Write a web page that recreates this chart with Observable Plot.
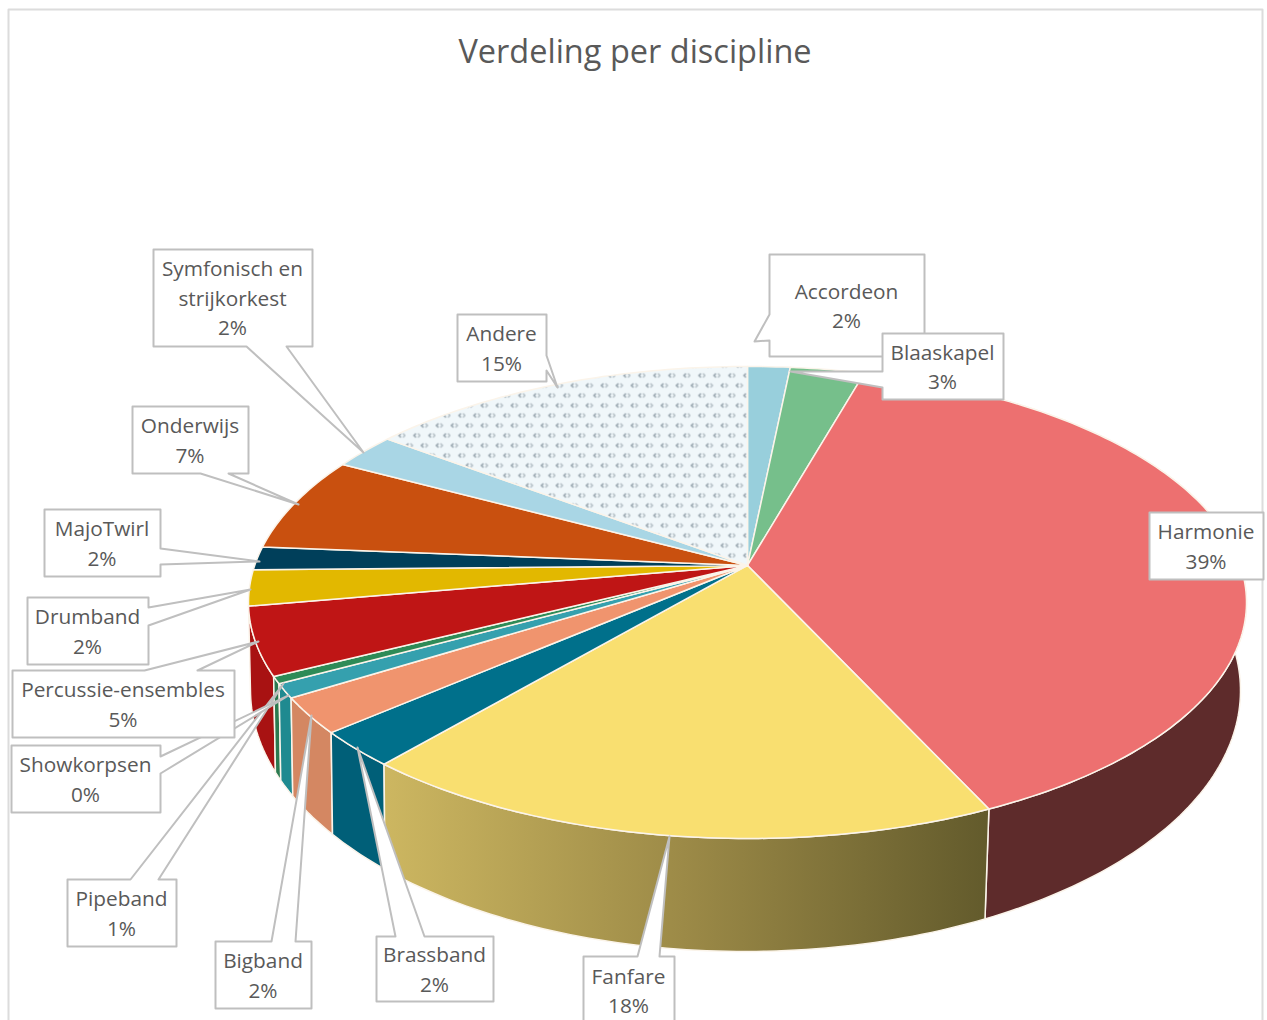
<!DOCTYPE html>
<html><head><meta charset="utf-8">
<style>html,body{margin:0;padding:0;background:#fff;overflow:hidden}</style>
<script src="https://cdn.jsdelivr.net/npm/d3@7"></script>
<script src="https://cdn.jsdelivr.net/npm/@observablehq/plot@0.6"></script>
</head><body><div id="chart"></div>
<script>
const titleText = "Verdeling per discipline";
const categories = ["Accordeon","Blaaskapel","Harmonie","Fanfare","Brassband","Bigband","Pipeband","Showkorpsen","Percussie-ensembles","Drumband","MajoTwirl","Onderwijs","Symfonisch en\nstrijkorkest","Andere"];
const shares = [1.6,2.8,38.7,18.15,2.45,2.45,0.96,0.49,4.65,2.45,1.6,6.5,2.45,14.75];
const topColors = ["#98cfdc","#76bf8b","#ed7070","#f9df70","#00708b","#f0946e","#35a0ae","#2e8b57","#bf1515","#e2b800","#003f5a","#c9500f","#a9d6e5","url(#andere)"];
const wallColors = ["#98cfdc","#76bf8b","#5e2b2b","url(#fanfareWall)","#005f78","#d48762","#1f8a90","#2b7a50","#a81212","#e2b800","#003f5a","#c9500f","#a9d6e5","#dde8ec"];

// Callout layout: box [x0,y0,x1,y1], side the tail leaves from, tail base a..b, tail tip
const callouts = [
  {box:[769,254,924,356],side:"l",a:314,b:340,tip:[754,341]},
  {box:[882,333,1003,399],side:"l",a:371,b:387,tip:[790,371]},
  {box:[1149,512,1263,579]},
  {box:[583,956,674,1024],side:"t",a:637,b:659,tip:[669,836]},
  {box:[376,936,493,1001],side:"t",a:395,b:424,tip:[357,747]},
  {box:[215,941,311,1008],side:"t",a:271,b:295,tip:[311,715]},
  {box:[67,879,176,946],side:"t",a:130,b:158,tip:[283,683]},
  {box:[11,745,160,812],side:"r",a:756,b:773,tip:[288,695]},
  {box:[12,670,234,737],side:"t",a:144,b:197,tip:[258,641]},
  {box:[27,597,148,664],side:"r",a:607,b:625,tip:[250,589]},
  {box:[44,509,160,576],side:"r",a:548,b:564,tip:[259,561]},
  {box:[132,406,248,473],side:"b",a:200,b:228,tip:[298,504]},
  {box:[153,249,312,346],side:"b",a:246,b:286,tip:[363,452]},
  {box:[457,314,546,381],side:"r",a:355,b:370,tip:[557,387]}
];

// Perspective view of the disc: upper and lower ellipse, vanishing shift of the centre
const topEllipse = {cx:747,cy:602,rx:499,ry:236};
const lowEllipse = {cx:745,cy:690,rx:495,ry:261};
const k = 0.157;
function project(e, frac, inner=1){
  const t = frac*2*Math.PI, u = inner*Math.sin(t), v = -inner*Math.cos(t), d = 1-k*v;
  return [e.cx + e.rx*u*Math.sqrt(1-k*k)/d, e.cy + e.ry*(v-k)/d];
}
const total = d3.sum(shares);
let run = 0;
const slices = shares.map((s,i)=>{const start=run/total; run+=s; return {i,start,end:run/total};});
function arc(e,s){
  const n = Math.max(2,Math.ceil((s.end-s.start)*360));
  return d3.range(n+1).map(j=>project(e,s.start+(s.end-s.start)*j/n));
}
const polyMark = (pts,fill,stroke,sw)=>Plot.line(pts,{x:d=>d[0],y:d=>d[1],curve:"linear-closed",fill,stroke,strokeWidth:sw,strokeLinejoin:"round"});

// Only the slices that face the viewer show a wall; nearest to the front is painted last
const walls = slices
  .filter(s=>s.i>=2 && s.i<=8)
  .sort((p,q)=>Math.abs((q.start+q.end)/2-.5)-Math.abs((p.start+p.end)/2-.5))
  .map(s=>polyMark([...arc(topEllipse,s),...arc(lowEllipse,s).reverse()],wallColors[s.i],"#fbf4ea",1.5));
const tops = slices.map(s=>polyMark([project(topEllipse,0,0),...arc(topEllipse,s)],topColors[s.i],"#fbf4ea",1.5));

function calloutPoints(c){
  const [x0,y0,x1,y1]=c.box, p=[[x0,y0]];
  if(c.side==="t") p.push([c.a,y0],c.tip,[c.b,y0]);
  p.push([x1,y0]);
  if(c.side==="r") p.push([x1,c.a],c.tip,[x1,c.b]);
  p.push([x1,y1]);
  if(c.side==="b") p.push([c.b,y1],c.tip,[c.a,y1]);
  p.push([x0,y1]);
  if(c.side==="l") p.push([x0,c.b],c.tip,[x0,c.a]);
  return p;
}
const labelRows = categories.map((name,i)=>({
  text:`${name}\n${Math.round(shares[i])}%`,
  x:(callouts[i].box[0]+callouts[i].box[2])/2 - 0.5,
  y:(callouts[i].box[1]+callouts[i].box[3])/2 - 1.5
}));

const defs = ()=>{
  const d = d3.create("svg:defs");
  const g = d.append("linearGradient").attr("id","fanfareWall").attr("gradientUnits","userSpaceOnUse")
    .attr("x1",381).attr("x2",985).attr("y1",0).attr("y2",0);
  g.append("stop").attr("offset",0).attr("stop-color","#cdb761");
  g.append("stop").attr("offset",.5).attr("stop-color","#9c8a47");
  g.append("stop").attr("offset",1).attr("stop-color","#635b2c");
  const p = d.append("pattern").attr("id","andere").attr("patternUnits","userSpaceOnUse").attr("width",15).attr("height",20);
  p.append("rect").attr("width",15).attr("height",20).attr("fill","#f0f7fa");
  for(const [x,y] of [[4,5],[11.5,15]]){
    p.append("path").attr("d",`M${x-1},${y-2}L${x-3},${y}L${x-1},${y+2}`).attr("fill","none").attr("stroke","#98a5ae").attr("stroke-width",1.6);
    p.append("path").attr("d",`M${x+1},${y-2}L${x+3},${y}L${x+1},${y+2}`).attr("fill","none").attr("stroke","#b4bfc6").attr("stroke-width",1.5);
  }
  return d.node();
};

const frame = [[8,1030],[8,9],[1262,9],[1262,1030]];
const chart = Plot.plot({
  width:1267,height:1020,margin:0,
  x:{domain:[0,1267],range:[0,1267],axis:null},
  y:{domain:[0,1020],range:[0,1020],axis:null},
  style:{background:"#fff"},
  marks:[
    defs,
    Plot.line(frame,{x:d=>d[0],y:d=>d[1],stroke:"#dcdcdc",strokeWidth:2}),
    Plot.text([titleText],{x:()=>634.5,y:()=>52.5,text:d=>d,fontFamily:"Open Sans",fontSize:32.5,fill:"#595959",textAnchor:"middle"}),
    ...walls,
    ...tops,
    ...callouts.map(c=>polyMark(calloutPoints(c),"#fff","#bfbfbf",2)),
    Plot.text(labelRows,{x:"x",y:"y",text:"text",fontFamily:"Open Sans",fontSize:20.8,lineHeight:1.42,fill:"#595959",textAnchor:"middle"})
  ]
});
document.getElementById("chart").append(chart);
</script></body></html>
